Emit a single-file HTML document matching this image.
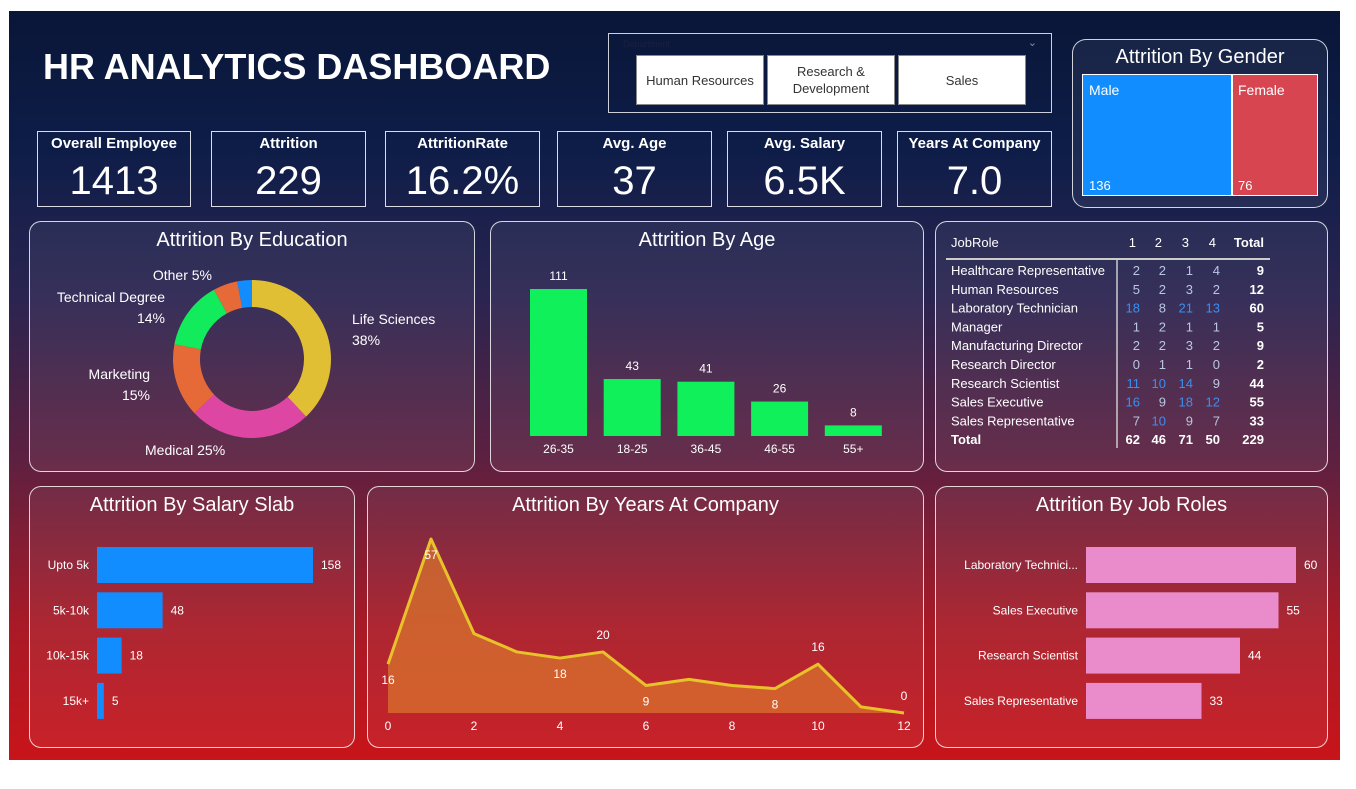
<!DOCTYPE html>
<html><head><meta charset="utf-8">
<style>
*{margin:0;padding:0;box-sizing:border-box}
body{width:1356px;height:789px;background:#fff;font-family:"Liberation Sans",sans-serif;overflow:hidden;position:relative}
#bg{position:absolute;left:9px;top:11px;width:1331px;height:749px;background:linear-gradient(180deg,#0a1638 0%,#0d1d48 18%,#2a2450 38%,#5e2040 60%,#a81a26 82%,#c8141a 100%)}
.panel{position:absolute;border:1.5px solid rgba(255,255,255,0.8);border-radius:12px;background:rgba(255,255,255,0.06)}
.ptitle{position:absolute;left:0;right:0;text-align:center;color:#fff;font-size:20px;top:7px}
.kpi{position:absolute;border:1.5px solid rgba(255,255,255,0.85);top:131px;height:76px;color:#fff;text-align:center}
.kpi .t{font-size:15px;font-weight:bold;margin-top:3px}
.kpi .v{font-size:40px;margin-top:9px;line-height:40px}
.btn{position:absolute;top:55px;height:50px;background:#fff;border:1px solid #888;color:#333;font-size:13px;display:flex;align-items:center;justify-content:center;text-align:center;line-height:17px}
svg text{font-family:"Liberation Sans",sans-serif}
</style></head><body>
<div id="bg"></div>
<div style="position:absolute;left:43px;top:46px;color:#fff;font-size:36px;font-weight:bold">HR ANALYTICS DASHBOARD</div>

<div style="position:absolute;left:608px;top:33px;width:444px;height:80px;border:1.5px solid rgba(255,255,255,0.8)">
<div style="position:absolute;left:14px;top:5px;font-size:9px;color:#1a2040">Department</div>
<div style="position:absolute;right:14px;top:2px;font-size:11px;color:#8890a8">&#8964;</div>
</div>
<div class="btn" style="left:636px;width:128px">Human Resources</div>
<div class="btn" style="left:767px;width:128px">Research &amp;<br>Development</div>
<div class="btn" style="left:898px;width:128px">Sales</div>

<div class="panel" style="left:1072px;top:39px;width:256px;height:169px;border-radius:14px">
<div class="ptitle" style="top:6px">Attrition By Gender</div>
</div>
<div style="position:absolute;left:1082px;top:74px;width:150px;height:122px;background:#118dff;border:1px solid #fff;color:#fff;font-size:14px">
<div style="position:absolute;left:6px;top:7px">Male</div><div style="position:absolute;left:6px;bottom:2px;font-size:13px">136</div></div>
<div style="position:absolute;left:1232px;top:74px;width:86px;height:122px;background:#d64550;border:1px solid #fff;color:#fff;font-size:14px">
<div style="position:absolute;left:5px;top:7px">Female</div><div style="position:absolute;left:5px;bottom:2px;font-size:13px">76</div></div>

<div class="kpi" style="left:37px;width:154px"><div class="t">Overall Employee</div><div class="v">1413</div></div>
<div class="kpi" style="left:211px;width:155px"><div class="t">Attrition</div><div class="v">229</div></div>
<div class="kpi" style="left:385px;width:155px"><div class="t">AttritionRate</div><div class="v">16.2%</div></div>
<div class="kpi" style="left:557px;width:155px"><div class="t">Avg. Age</div><div class="v">37</div></div>
<div class="kpi" style="left:727px;width:155px"><div class="t">Avg. Salary</div><div class="v">6.5K</div></div>
<div class="kpi" style="left:897px;width:155px"><div class="t">Years At Company</div><div class="v">7.0</div></div>

<div class="panel" style="left:29px;top:221px;width:446px;height:251px"><div class="ptitle">Attrition By Education</div></div>
<div class="panel" style="left:490px;top:221px;width:434px;height:251px"><div class="ptitle">Attrition By Age</div></div>
<div class="panel" style="left:935px;top:221px;width:393px;height:251px"></div>
<div class="panel" style="left:29px;top:486px;width:326px;height:262px"><div class="ptitle">Attrition By Salary Slab</div></div>
<div class="panel" style="left:367px;top:486px;width:557px;height:262px"><div class="ptitle">Attrition By Years At Company</div></div>
<div class="panel" style="left:935px;top:486px;width:393px;height:262px"><div class="ptitle">Attrition By Job Roles</div></div>

<svg id="svg" width="1356" height="789" style="position:absolute;left:0;top:0"></svg>

<script>
const eduLabels=["Life Sciences","Medical","Marketing","Technical Degree","Other","Human Resources"];
const eduValues=[38,25,15,14,5,3];
const eduColors=["#e0bf34","#de46a3","#e66a38","#12ec5c","#e66a38","#118dff"];
const ageCats=["26-35","18-25","36-45","46-55","55+"];
const ageValues=[111,43,41,26,8];
const salaryCats=["Upto 5k","5k-10k","10k-15k","15k+"];
const salaryValues=[158,48,18,5];
const yearsX=[0,1,2,3,4,5,6,7,8,9,10,11,12];
const yearsValues=[16,57,26,20,18,20,9,11,9,8,16,2,0];
const yearsLabelIdx=[0,1,4,5,6,9,10,12];
const yearsTicks=[0,2,4,6,8,10,12];
const roleCats=["Laboratory Technici...","Sales Executive","Research Scientist","Sales Representative"];
const roleValues=[60,55,44,33];
const tableRoles=["Healthcare Representative","Human Resources","Laboratory Technician","Manager","Manufacturing Director","Research Director","Research Scientist","Sales Executive","Sales Representative"];
const tableVals=[[2,2,1,4],[5,2,3,2],[18,8,21,13],[1,2,1,1],[2,2,3,2],[0,1,1,0],[11,10,14,9],[16,9,18,12],[7,10,9,7]];

const NS="http://www.w3.org/2000/svg";
const svg=document.getElementById("svg");
function mk(tag,attrs,parent){const e=document.createElementNS(NS,tag);for(const k in attrs)e.setAttribute(k,attrs[k]);(parent||svg).appendChild(e);return e;}
function tx(x,y,s,attrs){const e=mk("text",Object.assign({x:x,y:y,fill:"#fff","font-size":13},attrs||{}));e.textContent=s;return e;}

// Donut
(function(){
const cx=252,cy=359,R=79,r=52;
const tot=eduValues.reduce((a,b)=>a+b,0);
let a0=-Math.PI/2;
const lbl=[[352,324,"Life Sciences","38%","start"],[145,455,"Medical 25%",null,"start"],[150,379,"Marketing","15%","end"],[165,302,"Technical Degree","14%","end"],[212,280,"Other 5%",null,"end"]];
eduValues.forEach((v,i)=>{
 const a1=a0+v/tot*2*Math.PI;const lg=(a1-a0)>Math.PI?1:0;
 const p=(ang,rad)=>[cx+rad*Math.cos(ang),cy+rad*Math.sin(ang)];
 const [x1,y1]=p(a0,R),[x2,y2]=p(a1,R),[x3,y3]=p(a1,r),[x4,y4]=p(a0,r);
 const s=mk("path",{d:`M${x1},${y1}A${R},${R} 0 ${lg} 1 ${x2},${y2}L${x3},${y3}A${r},${r} 0 ${lg} 0 ${x4},${y4}Z`,fill:eduColors[i]});
 
 
 a0=a1;
});
lbl.forEach((l,i)=>{const t=tx(l[0],l[1],l[2],{"font-size":14,"text-anchor":l[4]});
 
 
 if(l[3]){const t2=tx(l[0],l[1]+21,l[3],{"font-size":14,"text-anchor":l[4]});
 
 }});
})();

// Age bars
(function(){
const base=436,top=289,maxV=ageValues[0];const yS=v=>base-(base-top)*v/maxV;
ageCats.forEach((c,i)=>{const x=530+i*73.7;
 const b=mk("rect",{x:x,y:yS(ageValues[i]),width:57,height:base-yS(ageValues[i]),fill:"#0ff05a"});
 
 
 tx(x+28.5,yS(ageValues[i])-9,String(ageValues[i]),{"text-anchor":"middle","font-size":12});
 tx(x+28.5,453,c,{"text-anchor":"middle","font-size":12});
});
})();

// Salary bars
(function(){
const x0=97,x1=313,maxV=Math.max(...salaryValues);
salaryCats.forEach((c,i)=>{const cy=565+i*45.3;const w=(x1-x0)*salaryValues[i]/maxV;
 const b=mk("rect",{x:x0,y:cy-18,width:w,height:36,fill:"#118dff"});
 
 
 tx(x0-8,cy+4,c,{"text-anchor":"end","font-size":12});
 tx(x0+w+8,cy+4,String(salaryValues[i]),{"font-size":12});
});
})();

// Job role bars
(function(){
const x0=1086,x1=1296,maxV=Math.max(...roleValues);
roleCats.forEach((c,i)=>{const cy=565+i*45.3;const w=(x1-x0)*roleValues[i]/maxV;
 const b=mk("rect",{x:x0,y:cy-18,width:w,height:36,fill:"#ea8ccb"});
 
 
 tx(x0-8,cy+4,c,{"text-anchor":"end","font-size":12});
 tx(x0+w+8,cy+4,String(roleValues[i]),{"font-size":12});
});
})();

// Years area
(function(){
const xS=v=>388+(904-388)*v/12, base=713, yS=v=>base-(base-539)*v/57;
let d=`M${xS(yearsX[0])},${base}`;yearsX.forEach((x,i)=>d+=`L${xS(x)},${yS(yearsValues[i])}`);d+=`L${xS(12)},${base}Z`;
const a=mk("path",{d:d,fill:"rgba(220,120,45,0.7)"});


const l=mk("polyline",{points:yearsX.map((x,i)=>xS(x)+","+yS(yearsValues[i])).join(" "),fill:"none",stroke:"#e8c22a","stroke-width":3,"stroke-linejoin":"round"});


const below={0:1,1:1,4:1,6:1,9:1};
yearsLabelIdx.forEach(i=>{const y=yS(yearsValues[i]);tx(xS(yearsX[i]),below[i]?y+20:y-13,String(yearsValues[i]),{"text-anchor":"middle","font-size":12});});
yearsTicks.forEach(t=>tx(xS(t),730,String(t),{"text-anchor":"middle","font-size":12}));
})();

// Table
(function(){
const colR=[1140,1166,1193,1220],totR=1264,y0=247,rh=18.8;
tx(951,y0,"JobRole",{"font-size":13});
[1,2,3,4].forEach((c,i)=>tx(colR[i]-4,y0,String(c),{"font-size":13,"text-anchor":"end"}));
tx(totR,y0,"Total",{"font-size":13,"font-weight":"bold","text-anchor":"end"});
mk("line",{x1:946,y1:259,x2:1270,y2:259,stroke:"#ccc","stroke-width":2});
mk("line",{x1:1117,y1:259,x2:1117,y2:448,stroke:"#ccc","stroke-width":1.5});
const colTot=[0,0,0,0];
tableRoles.forEach((r,i)=>{const y=275+i*rh;tx(951,y,r,{"font-size":13});let t=0;
 tableVals[i].forEach((v,j)=>{t+=v;colTot[j]+=v;const c=tx(colR[j],y,String(v),{"font-size":13,"text-anchor":"end",fill:v>=10?"#3b8ff0":"#b9c7e2"});
 
 });
 tx(totR,y,String(t),{"font-size":13,"font-weight":"bold","text-anchor":"end"});
});
const yt=275+tableRoles.length*rh;
tx(951,yt,"Total",{"font-size":13,"font-weight":"bold"});
colTot.forEach((v,j)=>tx(colR[j],yt,String(v),{"font-size":13,"font-weight":"bold","text-anchor":"end"}));
tx(totR,yt,String(colTot.reduce((a,b)=>a+b,0)),{"font-size":13,"font-weight":"bold","text-anchor":"end"});
})();
</script>
</body></html>
